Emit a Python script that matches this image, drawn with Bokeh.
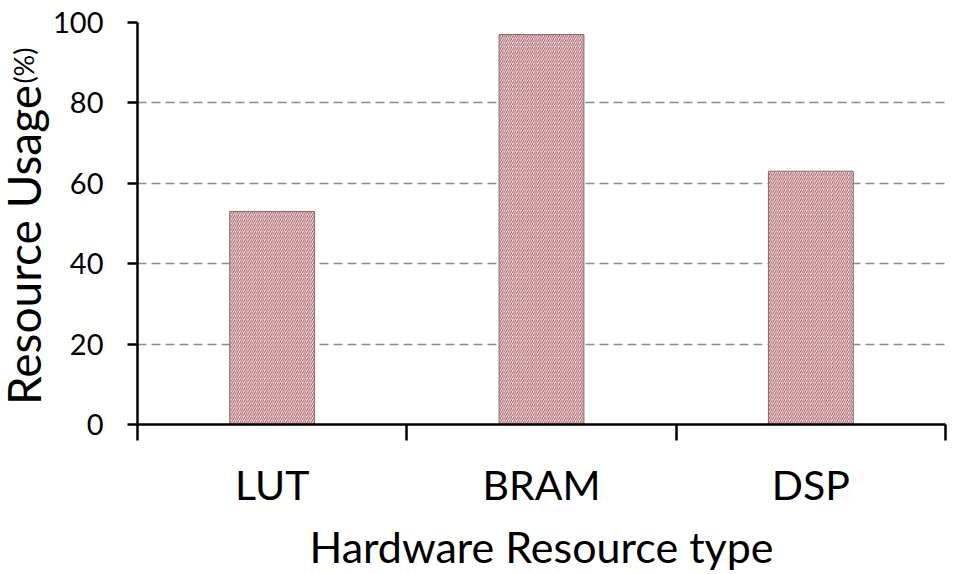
import math
from bokeh.plotting import figure
from bokeh.layouts import row
from bokeh.models import Range1d, FixedTicker
from bokeh.core.properties import value
from bokeh.embed import file_html
from bokeh.resources import INLINE

categories = ["LUT", "BRAM", "DSP"]
usage = [53, 97, 63]
y_ticks = [0, 20, 40, 60, 80, 100]
y_title = "Resource Usage"
y_unit = "(%)"
x_title = "Hardware Resource type"

FONT = "Lato"
H = 574
LW = 50  # width of the side strip holding the y title

x_pos = [i + 1 for i in range(len(categories))]
bounds = [i + 0.5 for i in range(len(categories) + 1)]

p = figure(width=950 - LW, height=H, output_backend="svg", toolbar_location=None,
           x_range=Range1d(0.5, len(categories) + 0.5), y_range=Range1d(0, 100),
           min_border_left=135 - LW, min_border_right=5, min_border_top=22,
           min_border_bottom=150)
p.outline_line_color = None
p.background_fill_color = "white"
p.border_fill_color = "white"

p.vbar(x=x_pos, top=usage, width=0.315, fill_color="#fdf2f2",
       line_color="#7f6a6a", line_width=1,
       hatch_pattern="/", hatch_color="#99454e", hatch_scale=4.2, hatch_weight=0.9)

# x axis
xa = p.xaxis[0]
xa.ticker = FixedTicker(ticks=x_pos, minor_ticks=bounds)
xa.major_label_overrides = {x: c for x, c in zip(x_pos, categories)}
xa.axis_line_width = 2.5
xa.axis_line_color = "black"
xa.major_tick_out = 0
xa.major_tick_in = 0
xa.minor_tick_out = 16
xa.minor_tick_in = 0
xa.minor_tick_line_width = 2.5
xa.minor_tick_line_color = "black"
xa.major_label_text_font = FONT
xa.major_label_text_font_size = "41px"
xa.major_label_text_color = "black"
xa.major_label_standoff = 19
xa.axis_label = x_title
xa.axis_label_text_font = FONT
xa.axis_label_text_font_size = "43px"
xa.axis_label_text_font_style = "normal"
xa.axis_label_text_color = "black"
xa.axis_label_standoff = 9

# y axis
ya = p.yaxis[0]
ya.ticker = FixedTicker(ticks=y_ticks)
ya.axis_line_width = 2.5
ya.axis_line_color = "black"
ya.major_tick_out = 10
ya.major_tick_in = 0
ya.major_tick_line_width = 2.5
ya.major_tick_line_color = "black"
ya.minor_tick_out = 0
ya.minor_tick_in = 0
ya.major_label_text_font = FONT
ya.major_label_text_font_size = "29px"
ya.major_label_text_color = "black"
ya.major_label_standoff = 24

p.xgrid.visible = False
p.ygrid.grid_line_color = "#8c8c8c"
p.ygrid.grid_line_dash = "9 5"
p.ygrid.grid_line_width = 1.5

# side strip with the two-size y title; its frame is aligned with the main
# frame by the row layout, so it shares the 0-100 vertical scale
s = figure(width=LW, height=H, output_backend="svg", toolbar_location=None,
           x_range=Range1d(0, LW), y_range=Range1d(0, 100),
           x_axis_location=None, y_axis_location=None, title=None,
           min_border=0, min_border_left=0, min_border_right=0,
           min_border_top=0, min_border_bottom=0)
s.grid.visible = False
s.outline_line_color = None
s.border_fill_color = "white"
s.background_fill_color = "white"
s.text(x=[23], y=[4.85], text=[y_title], angle=math.pi / 2,
       text_align="left", text_baseline="alphabetic",
       text_font=value(FONT), text_font_size="46px", text_color="black")
s.text(x=[23], y=[84.8], text=[y_unit], angle=math.pi / 2,
       text_align="left", text_baseline="alphabetic",
       text_font=value(FONT), text_font_size="27px", text_color="black")

layout = row(s, p, spacing=0)
open("out.html", "w").write(file_html(layout, INLINE))
